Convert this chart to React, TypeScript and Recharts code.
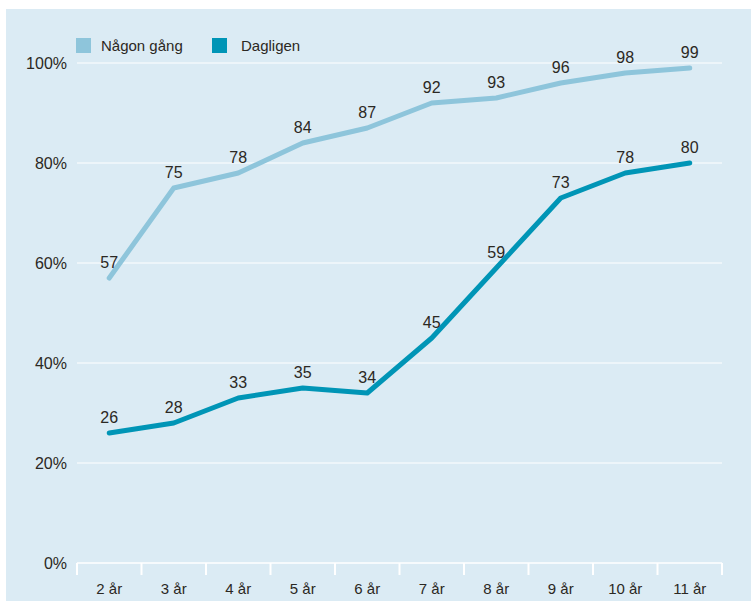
import React from 'react';
import { LineChart, Line, XAxis, YAxis, CartesianGrid, Legend, LabelList } from 'recharts';

const ages = ['2 år', '3 år', '4 år', '5 år', '6 år', '7 år', '8 år', '9 år', '10 år', '11 år'];
const nagonGang = [57, 75, 78, 84, 87, 92, 93, 96, 98, 99];
const dagligen = [26, 28, 33, 35, 34, 45, 59, 73, 78, 80];
const yTicks = [0, 20, 40, 60, 80, 100];

const LIGHT = '#8ec5db';
const DARK = '#0095b6';
const TEXT = '#2b2823';
const FONT = '"Liberation Sans", Arial, sans-serif';

const WIDTH = 751;
const HEIGHT = 601;
const PLOT_LEFT = 77;
const PLOT_RIGHT = 722;
const HALF_BAND = (PLOT_RIGHT - PLOT_LEFT) / ages.length / 2;

// x sits in the middle of each age band, tick lines go on the band edges
const data = ages.map((age, i) => ({
  x: i + 0.5,
  age,
  nagonGang: nagonGang[i],
  dagligen: dagligen[i],
}));
const bandEdges = ages.map((_, i) => i).concat(ages.length);

const AgeTick = (props: any) => {
  const { x, payload } = props;
  const label = ages[payload.value];
  if (!label) return null;
  return (
    <text x={x + HALF_BAND} y={594} textAnchor="middle" fill={TEXT} fontSize={15} fontFamily={FONT}>
      {label}
    </text>
  );
};

const LegendContent = () => {
  const items = [
    { name: 'Någon gång', color: LIGHT },
    { name: 'Dagligen', color: DARK },
  ];
  return (
    <div style={{ display: 'flex', fontFamily: FONT, fontSize: 15, color: TEXT }}>
      {items.map((it) => (
        <div key={it.name} style={{ display: 'flex', alignItems: 'center', width: 136 }}>
          <span style={{ display: 'inline-block', width: 15, height: 15, background: it.color, marginRight: it.name === 'Dagligen' ? 14 : 10 }} />
          <span>{it.name}</span>
        </div>
      ))}
    </div>
  );
};

export default function App() {
  return (
    <div style={{ position: 'absolute', left: 0, top: 0, width: WIDTH, height: HEIGHT, background: '#fff' }}>
      <div style={{ position: 'absolute', left: 6, top: 9, right: 0, bottom: 0, background: '#dbebf4' }} />
      <div style={{ position: 'absolute', left: 0, top: 0 }}>
        <LineChart
          width={WIDTH}
          height={HEIGHT}
          data={data}
          margin={{ top: 63, right: WIDTH - PLOT_RIGHT, bottom: 0, left: 7 }}
        >
          <CartesianGrid vertical={false} stroke="#ffffff" strokeWidth={1} />
          <XAxis
            dataKey="x"
            type="number"
            domain={[0, ages.length]}
            ticks={bandEdges}
            interval={0}
            height={38}
            axisLine={{ stroke: '#ffffff' }}
            tickLine={{ stroke: '#ffffff', strokeWidth: 2 }}
            tickSize={12}
            tick={<AgeTick />}
          />
          <YAxis
            domain={[0, 100]}
            ticks={yTicks}
            width={70}
            axisLine={false}
            tickLine={false}
            tickMargin={4}
            tickFormatter={(v) => `${v}%`}
            tick={{ fill: TEXT, fontSize: 16, fontFamily: FONT }}
          />
          <Legend
            verticalAlign="middle"
            content={<LegendContent />}
            wrapperStyle={{ top: 37, left: 76, width: 300 }}
          />
          <Line
            dataKey="nagonGang"
            name="Någon gång"
            stroke={LIGHT}
            strokeWidth={5}
            strokeLinecap="round"
            strokeLinejoin="round"
            dot={false}
            type="linear"
            isAnimationActive={false}
          >
            <LabelList dataKey="nagonGang" position="top" offset={10} fill={TEXT} fontSize={16} fontFamily={FONT} />
          </Line>
          <Line
            dataKey="dagligen"
            name="Dagligen"
            stroke={DARK}
            strokeWidth={5}
            strokeLinecap="round"
            strokeLinejoin="round"
            dot={false}
            type="linear"
            isAnimationActive={false}
          >
            <LabelList dataKey="dagligen" position="top" offset={10} fill={TEXT} fontSize={16} fontFamily={FONT} />
          </Line>
        </LineChart>
      </div>
    </div>
  );
}
